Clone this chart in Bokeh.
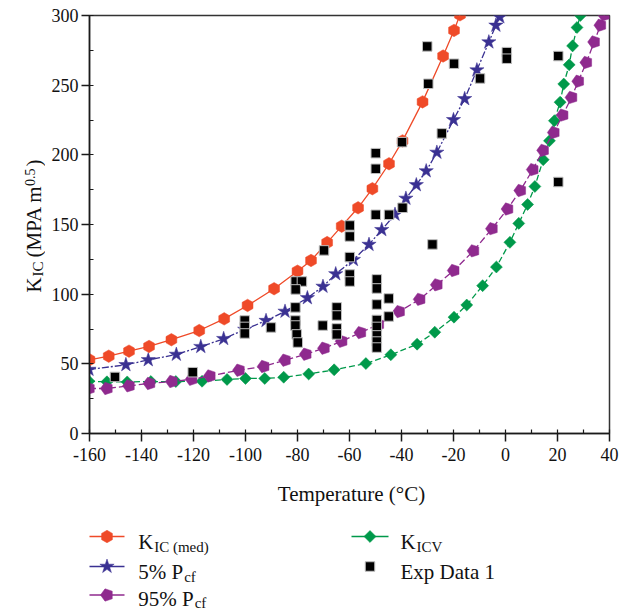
import math
from bokeh.plotting import figure
from bokeh.models import Range1d, SingleIntervalTicker, Label, ColumnDataSource
from bokeh.layouts import column, row
from bokeh.embed import file_html
from bokeh.resources import INLINE

# ---------------- data ----------------
kic_T = [-160, -152.6, -144.8, -137.1, -128.5, -117.8, -108.2, -99.2, -89.0, -80.0,
         -74.8, -68.6, -63.0, -56.7, -51.2, -44.8, -39.6, -31.9, -24.0, -19.8, -17.5]
kic_K = [52.9, 55.5, 59.1, 62.5, 67.3, 73.9, 82.3, 91.9, 103.9, 116.5,
         124.2, 137.0, 148.8, 162.0, 175.7, 193.6, 210.0, 238.0, 270.9, 289.3, 300.5]

p5_T = [-160.2, -146.0, -137.4, -126.6, -117.2, -108.4, -100.3, -92.1, -84.8, -76.2,
        -70.2, -65.3, -58.5, -52.5, -47.6, -42.5, -38.3, -34.3, -30.5, -26.4,
        -20.0, -15.7, -11.0, -6.4, -3.7, -2.2]
p5_K = [45.9, 49.3, 52.8, 56.7, 62.3, 68.0, 74.6, 81.0, 87.6, 97.3,
        105.5, 114.5, 124.7, 135.6, 146.2, 157.2, 168.7, 178.4, 188.4, 201.7,
        225.1, 240.2, 260.8, 280.9, 292.9, 298.9]

p95_T = [-160.2, -153.3, -144.8, -136.9, -128.3, -120.7, -113.7, -102.5, -93.0, -84.8,
         -76.8, -69.8, -63.0, -55.8, -48.9, -40.9, -33.0, -26.4, -19.9, -12.3,
         -5.2, 0.8, 5.7, 10.5, 14.5, 18.6, 22.0, 25.4, 28.0, 31.1, 34.1, 36.5, 38.0]
p95_K = [32.3, 32.3, 34.2, 35.9, 37.3, 38.9, 41.3, 45.4, 48.1, 52.6,
         56.9, 61.2, 66.2, 72.4, 78.2, 87.5, 96.3, 106.7, 117.0, 131.1,
         147.0, 161.1, 174.4, 189.4, 203.2, 216.0, 228.5, 241.2, 252.8, 266.3, 281.0, 293.0, 300.4]

kicv_T = [-160.2, -153.3, -145.5, -136.4, -126.8, -116.7, -107.1, -100.0, -92.6, -85.3,
          -75.7, -65.9, -53.7, -44.1, -34.0, -27.2, -19.8, -14.9, -8.8, -3.5,
          1.7, 5.1, 8.5, 11.3, 14.5, 16.9, 18.8, 21.0, 22.4, 24.5, 25.8, 27.5, 28.8]
kicv_K = [37.5, 37.1, 37.0, 37.3, 37.3, 37.5, 38.8, 39.5, 39.5, 40.4,
          42.7, 45.7, 50.2, 56.5, 64.1, 72.7, 83.5, 92.2, 106.1, 119.5,
          137.2, 150.8, 164.4, 177.3, 196.5, 210.1, 224.5, 237.8, 250.8, 264.6, 278.2, 291.4, 300.0]

exp_T = [-150.2, -120.3, -100.3, -100.3, -100.3, -90.2, -80.7, -78.3, -80.7, -80.8,
         -80.8, -80.8, -80.3, -79.9, -70.3, -69.8, -64.9, -64.9, -64.9, -64.9,
         -59.9, -59.9, -59.9, -59.9, -59.9, -49.9, -49.9, -49.9, -49.5, -49.5,
         -49.5, -49.5, -49.5, -49.5, -49.5, -49.5, -44.8, -44.9, -44.9, -39.8,
         -39.6, -30.1, -29.7, -28.1, -24.5, -19.8, -9.8, 0.5, 0.5, 20.3, 20.3]
exp_K = [40.6, 44.0, 81.1, 76.5, 71.8, 76.1, 109.1, 109.1, 103.4, 90.5,
         81.1, 77.5, 71.1, 65.3, 77.5, 131.4, 90.5, 84.7, 75.4, 71.1,
         149.3, 141.4, 126.6, 114.1, 109.1, 201.2, 190.0, 157.0, 110.6, 104.1,
         92.6, 81.5, 76.5, 70.4, 66.0, 61.7, 157.0, 96.9, 84.0, 209.1,
         162.0, 277.8, 251.0, 135.7, 215.4, 265.4, 254.8, 273.7, 269.0, 270.9, 180.5]

x_ticks = [-160, -140, -120, -100, -80, -60, -40, -20, 0, 20, 40]
y_ticks = [0, 50, 100, 150, 200, 250, 300]

# ---------------- style ----------------
FONT = "Liberation Serif"
RED = "#EF4A28"
BLUE = "#3A3192"
PURPLE = "#8F2A8E"
GREEN = "#00994A"
AX = "#1a1a1a"
TXT = "#111111"

LEFT_W = 45
TOTAL_W = 623
MAIN_H = 475
LEG_H = 135


def blank_fig(w, h):
    f = figure(width=w, height=h, x_range=Range1d(0, w), y_range=Range1d(h, 0),
               output_backend="svg", toolbar_location=None, min_border=0,
               x_axis_type=None, y_axis_type=None, frame_align=False)
    f.grid.visible = False
    f.outline_line_color = None
    f.background_fill_color = "white"
    f.border_fill_color = "white"
    return f


def lab(fig, x, y, text, size, angle=0.0, align="left"):
    fig.add_layout(Label(x=x, y=y, text=text, angle=angle,
                         text_font=FONT, text_font_size=size, text_align=align,
                         text_baseline="alphabetic", text_color=TXT))


p = figure(width=TOTAL_W - LEFT_W, height=MAIN_H, x_range=Range1d(-160, 40), y_range=Range1d(0, 300),
           output_backend="svg", toolbar_location=None, frame_align=False,
           min_border_left=89 - LEFT_W, min_border_right=14, min_border_top=15, min_border_bottom=42)
p.grid.visible = False
p.outline_line_color = "#333333"
p.outline_line_width = 1.5
p.background_fill_color = "white"
p.border_fill_color = "white"

p.xaxis.ticker = SingleIntervalTicker(interval=20, num_minor_ticks=2)
p.yaxis.ticker = SingleIntervalTicker(interval=50, num_minor_ticks=2)
p.xaxis.major_label_overrides = {t: str(t) for t in x_ticks}
p.yaxis.major_label_overrides = {t: str(t) for t in y_ticks}
for ax in (p.xaxis, p.yaxis):
    ax.axis_line_color = AX
    ax.axis_line_width = 1.5
    ax.major_tick_line_color = AX
    ax.major_tick_line_width = 1.5
    ax.minor_tick_line_color = AX
    ax.minor_tick_line_width = 1.2
    ax.major_tick_in = 0
    ax.major_tick_out = 8
    ax.minor_tick_in = 4
    ax.minor_tick_out = 0
    ax.major_label_text_font = FONT
    ax.major_label_text_font_size = "18px"
    ax.major_label_text_color = TXT
p.xaxis.major_label_standoff = 6
p.yaxis.major_label_standoff = 3

# series
s_kic = ColumnDataSource(dict(T=kic_T, K=kic_K))
s_p5 = ColumnDataSource(dict(T=p5_T, K=p5_K))
s_p95 = ColumnDataSource(dict(T=p95_T, K=p95_K))
s_kicv = ColumnDataSource(dict(T=kicv_T, K=kicv_K))
s_exp = ColumnDataSource(dict(T=exp_T, K=exp_K))

HEX = dict(marker="hex", size=12.5, angle=math.pi / 2, fill_color=RED, line_color=RED, line_width=0.5)
STAR = dict(marker="star", size=15, fill_color=BLUE, line_color=BLUE, line_width=0.5)
PENT = dict(radius=6.5, radius_units="screen", n=5, angle=math.pi / 2,
            fill_color=PURPLE, line_color=PURPLE, line_width=0.5)
DIAM = dict(marker="square", size=8.5, angle=math.pi / 4, fill_color=GREEN, line_color=GREEN, line_width=0.5)
SQ = dict(marker="square", size=9.5, fill_color="black", line_color="#bdbdbd", line_width=1)

p.line("T", "K", source=s_kicv, line_color=GREEN, line_width=1.3, line_dash="6 3")
p.scatter("T", "K", source=s_kicv, **DIAM)

p.line("T", "K", source=s_p95, line_color=PURPLE, line_width=1.3, line_dash="7 3")
p.ngon("T", "K", source=s_p95, **PENT)

p.line("T", "K", source=s_p5, line_color=BLUE, line_width=1.3, line_dash="7 2 2 2")
p.scatter("T", "K", source=s_p5, **STAR)

p.line("T", "K", source=s_kic, line_color=RED, line_width=1.3)
p.scatter("T", "K", source=s_kic, **HEX)

p.scatter("T", "K", source=s_exp, **SQ)

# ---------------- y-axis title (left strip, pixel coordinates) ----------------
ylab = blank_fig(LEFT_W, MAIN_H)
A = math.pi / 2
lab(ylab, 33, 292, "K", "21px", angle=A)
lab(ylab, 37, 276, "IC", "15px", angle=A)
lab(ylab, 33, 257, "(MPA m", "21px", angle=A)
lab(ylab, 29.5, 185.5, "0.5", "14px", angle=A)
lab(ylab, 33, 166, ")", "21px", angle=A)

# ---------------- x title + legend (bottom strip, pixel coordinates) ----------------
leg = blank_fig(TOTAL_W, LEG_H)
lab(leg, 351, 18, "Temperature (°C)", "21px", align="center")

c1 = [89, 124, 106.5]
c2 = [351, 388, 369.5]
rows = [61, 91, 119.5]
base = [66.5, 96.5, 123]


def seg(col, r, color):
    leg.line([col[0], col[1]], [r, r], line_color=color, line_width=1.3)


seg(c1, rows[0], RED)
leg.scatter([c1[2]], [rows[0]], **HEX)
seg(c1, rows[1], BLUE)
leg.scatter([c1[2]], [rows[1]], **STAR)
seg(c1, rows[2], PURPLE)
leg.ngon([c1[2]], [rows[2]], **PENT)
seg(c2, rows[0], GREEN)
leg.scatter([c2[2]], [rows[0]], **DIAM)
leg.scatter([c2[2]], [rows[1]], **SQ)

tx1, tx2 = 137.7, 400
lab(leg, tx1, base[0], "K", "21px")
lab(leg, tx1 + 16, base[0] + 4.5, "IC (med)", "15px")
lab(leg, tx1, base[1], "5% P", "21px")
lab(leg, tx1 + 46, base[1] + 4.5, "cf", "15px")
lab(leg, tx1, base[2], "95% P", "21px")
lab(leg, tx1 + 56.5, base[2] + 4, "cf", "15px")
lab(leg, tx2, base[0], "K", "21px")
lab(leg, tx2 + 16, base[0] + 4.5, "ICV", "15px")
lab(leg, tx2, base[1], "Exp Data 1", "21px")

layout = column(row(ylab, p, spacing=0), leg, spacing=0)
open("out.html", "w").write(file_html(layout, INLINE))
